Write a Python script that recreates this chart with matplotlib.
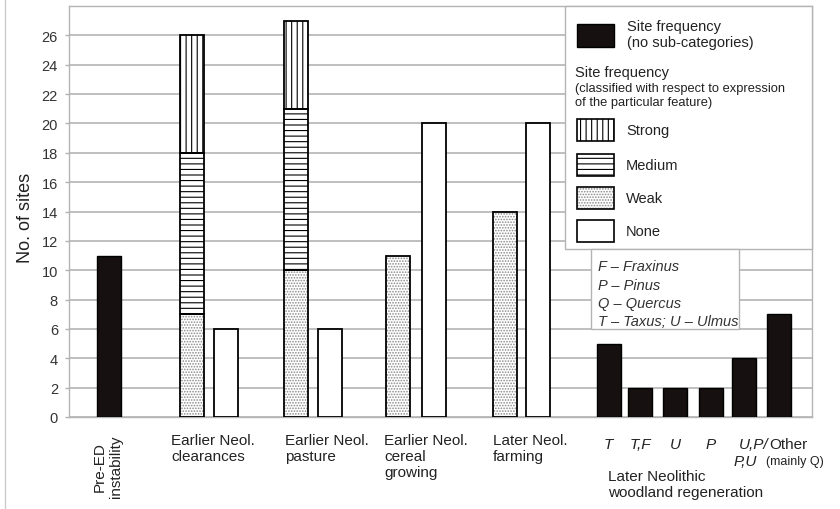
import matplotlib.pyplot as plt
from matplotlib.patches import Rectangle
from matplotlib.lines import Line2D

plt.rcParams['font.family'] = ['Liberation Sans', 'DejaVu Sans']
plt.rcParams['hatch.linewidth'] = 0.8

# data
pre_ed_label = 'Pre-ED\ninstability'
pre_ed_count = 11

neol_labels = ['Earlier Neol.\nclearances', 'Earlier Neol.\npasture',
               'Earlier Neol.\ncereal\ngrowing', 'Later Neol.\nfarming']
weak = [7, 10, 11, 14]
medium = [11, 11, 0, 0]
strong = [8, 6, 0, 0]
none = [6, 6, 20, 20]

regen_labels = ['T', 'T,F', 'U', 'P', 'U,P/', 'Other']
regen_counts = [5, 2, 2, 2, 4, 7]

species_key = ['F – Fraxinus', 'P – Pinus', 'Q – Quercus', 'T – Taxus; U – Ulmus']

# layout (x in pixel units of the 840 px wide figure)
W, H = 840, 510
pre_x = 109
stack_x = [191.5, 296, 397.5, 504.5]
none_x = [226, 330, 434, 537.5]
regen_x = [608.5, 640, 675, 711, 743.5, 778.5]
bw = 24

TXT = '#222222'
GRID = '#b4b4b4'
WEAK_HATCH = '#8a8a8a'


def px(x, y):
    return x / W, 1 - y / H


def hbar(ax, x, h, bottom, hatch, hcolor):
    if h <= 0:
        return
    ax.bar(x, h, bw, bottom=bottom, color='white', edgecolor=hcolor,
           hatch=hatch, linewidth=0, zorder=2)
    ax.bar(x, h, bw, bottom=bottom, fill=False, edgecolor='black',
           linewidth=1.3, zorder=3)


fig = plt.figure(figsize=(W / 100, H / 100), dpi=100)
ax = fig.add_axes([69 / W, 1 - 418 / H, (812 - 69) / W, (418 - 7) / H])

ax.bar(pre_x, pre_ed_count, bw, color='#161010', edgecolor='black', linewidth=1, zorder=3)
for i in range(len(neol_labels)):
    hbar(ax, stack_x[i], weak[i], 0, '......', WEAK_HATCH)
    hbar(ax, stack_x[i], medium[i], weak[i], '---', 'black')
    hbar(ax, stack_x[i], strong[i], weak[i] + medium[i], '|||', 'black')
    hbar(ax, none_x[i], none[i], 0, '', 'black')
ax.bar(regen_x, regen_counts, bw, color='#161010', edgecolor='black', linewidth=1, zorder=3)

ax.set_xlim(69, 812)
ax.set_ylim(0, 28)
ax.set_yticks(range(0, 27, 2))
ax.set_xticks([])
ax.yaxis.grid(True, color=GRID, linewidth=1.2, zorder=0)
ax.set_axisbelow(True)
for s in ax.spines.values():
    s.set_color(GRID)
    s.set_linewidth(1.0)
ax.tick_params(axis='y', length=3, width=1, color=GRID, pad=5, labelsize=10.5,
               labelcolor='#333333')
fig.text(26 / W, 1 - 218 / H, 'No. of sites', rotation=90, ha='center', va='center',
         fontsize=13, color=TXT)

# category labels
fig.text(*px(108, 436), pre_ed_label, rotation=90, ha='center', va='top',
         fontsize=11, color=TXT, linespacing=1.15)
label_left = [171, 285, 384, 493]
for lx, lab in zip(label_left, neol_labels):
    fig.text(*px(lx, 434), lab, ha='left', va='top', fontsize=11, color=TXT,
             linespacing=1.2)

for x, lab in zip(regen_x[:4], regen_labels[:4]):
    fig.text(*px(x, 445), lab, ha='center', va='center', fontsize=11,
             style='italic', color=TXT)
fig.text(*px(768, 445), regen_labels[4], ha='right', va='center', fontsize=11,
         style='italic', color=TXT)
fig.text(*px(769, 445), regen_labels[5], ha='left', va='center', fontsize=11, color=TXT)
fig.text(*px(734, 462), 'P,U', ha='left', va='center', fontsize=11,
         style='italic', color=TXT)
fig.text(*px(766, 462), '(mainly Q)', ha='left', va='center', fontsize=9, color=TXT)
fig.text(*px(608, 470), 'Later Neolithic\nwoodland regeneration', ha='left', va='top',
         fontsize=11, color=TXT, linespacing=1.15)

# legend box
lx0, ly0 = px(565, 250)
lx1, ly1 = px(812, 7)
fig.add_artist(Rectangle((lx0, ly0), lx1 - lx0, ly1 - ly0, transform=fig.transFigure,
                         facecolor='white', edgecolor=GRID, linewidth=1.0, zorder=4))


def swatch(x0, y0, x1, y1, **kw):
    a, b = px(x0, y1)
    c, d = px(x1, y0)
    fig.add_artist(Rectangle((a, b), c - a, d - b, transform=fig.transFigure,
                             zorder=5, **kw))


swatch(577, 25, 614, 48, facecolor='#161010', edgecolor='black', linewidth=1)
fig.text(*px(627, 35), 'Site frequency\n(no sub-categories)', ha='left', va='center',
         fontsize=10.5, color=TXT, zorder=6, linespacing=1.25)
fig.text(*px(575, 73), 'Site frequency', ha='left', va='center', fontsize=10.5,
         color=TXT, zorder=6)
fig.text(*px(575, 96), '(classified with respect to expression\nof the particular feature)',
         ha='left', va='center', fontsize=9.3, color=TXT, zorder=6, linespacing=1.15)

legend_rows = [('Strong', '|||', 'black', 120), ('Medium', '---', 'black', 155),
               ('Weak', '......', WEAK_HATCH, 188), ('None', '', 'black', 221)]
for name, hatch, hc, y0 in legend_rows:
    swatch(577, y0, 614, y0 + 22, facecolor='white', edgecolor=hc, hatch=hatch, linewidth=0)
    swatch(577, y0, 614, y0 + 22, fill=False, edgecolor='black', linewidth=1.2)
    fig.text(*px(626, y0 + 11), name, ha='left', va='center', fontsize=10.5,
             color=TXT, zorder=6)

# species key box
kx0, ky0 = px(591, 330)
kx1, ky1 = px(739, 250)
fig.add_artist(Rectangle((kx0, ky0), kx1 - kx0, ky1 - ky0, transform=fig.transFigure,
                         facecolor='white', edgecolor=GRID, linewidth=1.0, zorder=4))
for i, s in enumerate(species_key):
    fig.text(*px(598, 267 + 18.5 * i), s, ha='left', va='center', fontsize=10.5,
             style='italic', color='#333333', zorder=6)

# outer frame line on the left
fig.add_artist(Line2D([5 / W, 5 / W], [0, 1], color='#cccccc', linewidth=1.0))

fig.savefig('out.png', dpi=100)
